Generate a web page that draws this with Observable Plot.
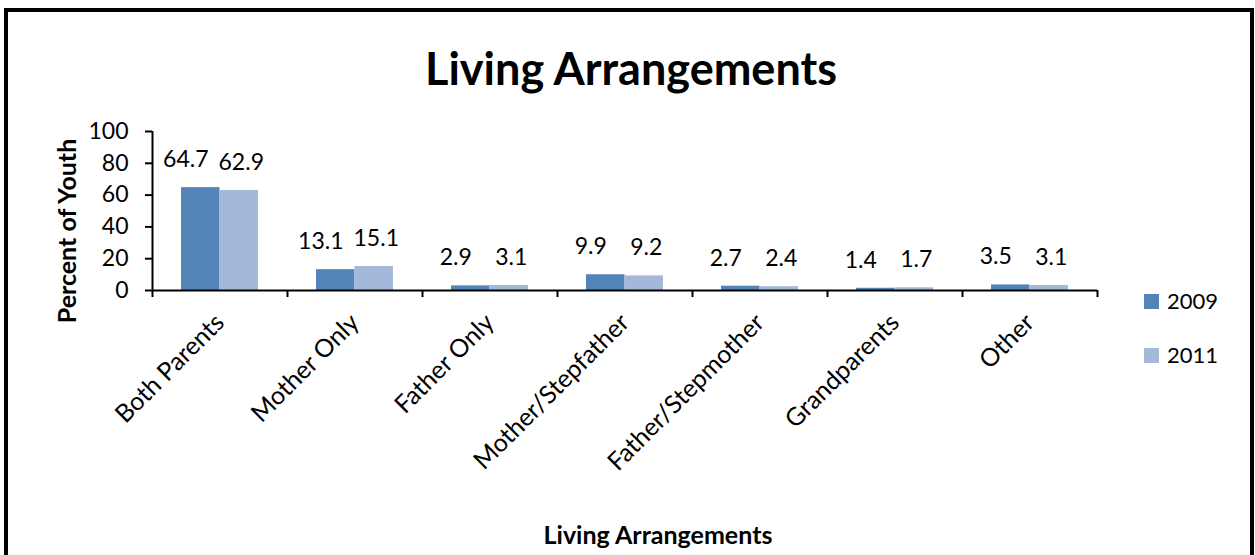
<!DOCTYPE html>
<html>
<head>
<meta charset="utf-8">
<script src="https://cdn.jsdelivr.net/npm/d3@7"></script>
<script src="https://cdn.jsdelivr.net/npm/@observablehq/plot@0.6"></script>
<style>
  html, body { margin: 0; padding: 0; background: #fff; }
  body { width: 1255px; height: 555px; position: relative; overflow: hidden; font-family: Lato, "Open Sans", sans-serif; color: #000; }
  #frame { position: absolute; left: 4px; top: 8px; width: 1250px; height: 620px; border: 4px solid #000; box-sizing: border-box; }
  #title { position: absolute; left: 0; width: 1262px; top: 40px; text-align: center; font-weight: bold; font-size: 45px; line-height: 56px; }
  #xtitle { position: absolute; left: 0; width: 1316px; top: 520px; text-align: center; font-weight: bold; font-size: 25px; line-height: 28px; }
  #ytitle { position: absolute; left: 66px; top: 231px; transform: translate(-50%, -50%) rotate(-90deg); white-space: nowrap; font-weight: bold; font-size: 25px; line-height: 28px; }
  #chart { position: absolute; left: 0; top: 0; }
  .leg { position: absolute; left: 1144px; font-size: 22px; line-height: 26px; display: flex; align-items: center; }
  .sw { width: 15px; height: 15px; margin-right: 8px; }
</style>
</head>
<body>
<div id="frame"></div>
<div id="chart"></div>
<div id="title">Living Arrangements</div>
<div id="ytitle">Percent of Youth</div>
<div id="xtitle">Living Arrangements</div>
<div id="legend"></div>
<script>
const categories = ["Both Parents", "Mother Only", "Father Only", "Mother/Stepfather", "Father/Stepmother", "Grandparents", "Other"];
const years = ["2009", "2011"];
const values2009 = [64.7, 13.1, 2.9, 9.9, 2.7, 1.4, 3.5];
const values2011 = [62.9, 15.1, 3.1, 9.2, 2.4, 1.7, 3.1];
const yTicks = [0, 20, 40, 60, 80, 100];
const colors = ["#5384B8", "#A4B8D9"];

const rows2009 = categories.map((c, i) => ({cat: c, year: "2009", value: values2009[i]}));
const rows2011 = categories.map((c, i) => ({cat: c, year: "2011", value: values2011[i]}));

const W = 1255, H = 555;
const mL = 152, mR = 158, mT = 131, mB = 265;
const bw = (W - mL - mR) / categories.length;
const barW = 0.285 * bw;

const plot = Plot.plot({
  width: W,
  height: H,
  marginLeft: mL,
  marginRight: mR,
  marginTop: mT,
  marginBottom: mB,
  style: {fontFamily: "Lato, 'Open Sans', sans-serif", fontSize: "23px", color: "#000", background: "transparent", overflow: "visible"},
  x: {type: "band", domain: categories, padding: 0},
  y: {domain: [0, 100]},
  color: {domain: years, range: colors},
  marks: [
    Plot.barY(rows2009, {x: "cat", y: "value", fill: colors[0], insetLeft: bw / 2 - barW, insetRight: bw / 2}),
    Plot.barY(rows2011, {x: "cat", y: "value", fill: colors[1], insetLeft: bw / 2, insetRight: bw / 2 - barW}),
    Plot.text(rows2009, {x: "cat", y: "value", text: d => d.value.toFixed(1), dx: -barW / 2 - 15, dy: -28, fontSize: 23, fill: "#000"}),
    Plot.text(rows2011, {x: "cat", y: "value", text: d => d.value.toFixed(1), dx: barW / 2 + 2, dy: -28, fontSize: 23, fill: "#000"}),
    Plot.ruleY([0], {stroke: "#000", strokeWidth: 2}),
    // y axis line (left boundary) and category boundary ticks
    Plot.ruleX([categories[0]], {x: d => d, dx: -bw / 2, stroke: "#000", strokeWidth: 2, insetBottom: -7}),
    Plot.ruleX(categories.slice(1), {x: d => d, y1: 0, y2: 0, dx: -bw / 2, stroke: "#000", strokeWidth: 2, insetBottom: -7}),
    Plot.ruleX([categories[categories.length - 1]], {x: d => d, y1: 0, y2: 0, dx: bw / 2, stroke: "#000", strokeWidth: 2, insetBottom: -7}),
    Plot.axisY({ticks: yTicks, tickSize: 7, tickPadding: 17, label: null, fontSize: 23, stroke: "#000", strokeWidth: 2}),
    Plot.axisX({tickSize: 0, tickPadding: 28, tickRotate: -45, label: null, fontSize: 25})
  ]
});
document.getElementById("chart").appendChild(plot);

const legend = document.getElementById("legend");
years.forEach((yr, i) => {
  const row = document.createElement("div");
  row.className = "leg";
  row.style.top = (288 + i * 54) + "px";
  const sw = document.createElement("div");
  sw.className = "sw";
  sw.style.background = colors[i];
  const t = document.createElement("span");
  t.textContent = yr;
  row.appendChild(sw);
  row.appendChild(t);
  legend.appendChild(row);
});
</script>
</body>
</html>
